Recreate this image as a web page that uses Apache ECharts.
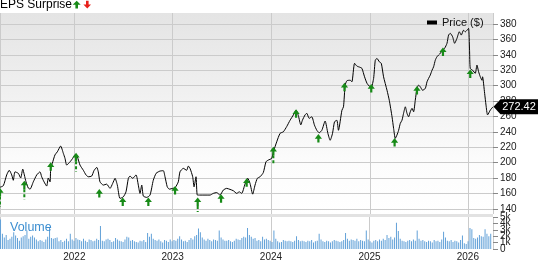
<!DOCTYPE html>
<html><head><meta charset="utf-8">
<script src="https://cdn.jsdelivr.net/npm/echarts@6/dist/echarts.min.js"></script>
<style>html,body{margin:0;padding:0;background:#fff}#c{width:538px;height:262px}</style>
</head><body><div id="c"></div>
<script>
// ---- data (dates as fractional years) ----
const priceDates = [
2021.249,2021.283,2021.317,2021.343,2021.368,2021.384,2021.401,2021.435,2021.459,2021.480,2021.496,2021.513,2021.536,2021.554,2021.587,2021.622,2021.655,2021.672,2021.696,2021.723,2021.739,2021.757,2021.764,2021.780,2021.807,2021.831,2021.865,2021.892,2021.909,2021.926,2021.960,2021.987,
2022.010,2022.034,2022.061,2022.095,2022.122,2022.145,2022.180,2022.203,2022.231,2022.247,2022.264,2022.298,2022.332,2022.366,2022.393,2022.417,2022.440,2022.467,2022.501,2022.528,2022.552,2022.569,2022.596,2022.630,2022.653,2022.670,2022.688,2022.704,2022.738,2022.772,2022.805,2022.833,2022.856,2022.873,2022.907,2022.924,2022.947,2022.968,
2023.002,2023.026,2023.059,2023.076,2023.110,2023.144,2023.161,2023.178,2023.205,2023.219,2023.239,2023.252,2023.279,2023.381,2023.414,2023.449,2023.482,2023.516,2023.550,2023.584,2023.618,2023.652,2023.678,2023.703,2023.736,2023.764,2023.787,2023.814,2023.838,2023.861,2023.889,2023.922,2023.949,2023.973,
2024.007,2024.024,2024.058,2024.092,2024.125,2024.160,2024.193,2024.227,2024.254,2024.277,2024.302,2024.318,2024.345,2024.363,2024.386,2024.413,2024.440,2024.464,2024.488,2024.515,2024.548,2024.576,2024.599,2024.623,2024.643,2024.667,2024.683,2024.718,2024.734,2024.751,2024.769,2024.802,2024.819,2024.846,2024.870,2024.904,2024.921,2024.947,2024.972,2024.995,
2025.015,2025.039,2025.056,2025.073,2025.097,2025.117,2025.140,2025.175,2025.198,2025.226,2025.242,2025.259,2025.276,2025.293,2025.310,2025.327,2025.343,2025.361,2025.378,2025.394,2025.411,2025.429,2025.445,2025.462,2025.479,2025.496,2025.513,2025.536,2025.564,2025.581,2025.597,2025.614,2025.632,2025.648,2025.665,2025.682,2025.716,2025.739,2025.760,2025.784,2025.800,2025.817,2025.841,2025.861,2025.885,2025.909,2025.929,2025.952,2025.970,2025.987,
2026.003,2026.013,2026.020,2026.044,2026.071,2026.088,2026.105,2026.122,2026.139,2026.145,2026.166,2026.180,2026.196,2026.224,2026.251
];
const priceValues = [
168,170,184,190,184,177,188,186,180,191.5,184,175,167,165.5,175,184,188,181.6,175,169.5,180,175,192.5,199,210,214,221.5,212,205.5,196.8,201,205.5,
210,207.5,196.8,190,184,181.6,182.5,189.5,193.8,188,175,170.8,172,166.5,173,179.5,170.8,153.5,155.5,162,179.5,182.5,179.5,184,170.8,160,170.8,156.5,154.8,157.8,177,186,188,189,189.5,181.6,168.5,165.5,
166.5,167.3,175,188,192.5,190,195.5,192.5,181.6,168.5,181.6,157.8,157.8,157.8,160,161,157.8,164.3,166.5,165.2,163.4,160,162,160,172,179.5,173,159,170.8,179.5,181.6,187,201,203.3,
205.5,214,227,238,240,247,255,262,268,261,249,255,262,264,257.5,259.5,248.7,242,238.8,242,254,238,229,238,253,255,242,268,272.5,300.7,306.4,307,305,329,325.4,323.7,322.4,311.5,303,299.4,
297.7,309.4,333,335.4,331,329,311.5,294,281,259.5,244.5,231.5,235.8,242,251,255,264,272.5,264,259.5,266,270.5,266,281,296.4,300.7,298.5,294,296.4,305,309.4,313.7,320,324.5,333,337.5,342,346,348.5,355,365.7,368,363.5,355,361.4,370,365.7,372,370,372,
374.4,346,322.4,320,316,326.7,318,311.5,307,311.5,290,274.7,262,268.3,272.42
];
// EPS surprise markers: report date, price at arrow tip, price at tail end
const epsDates = [2021.249,2021.496,2021.764,2022.021,2022.257,2022.495,2022.755,2023.026,2023.256,2023.493,2023.753,2024.024,2024.254,2024.480,2024.744,2025.015,2025.252,2025.479,2025.743,2026.020];
const epsTip   = [166.9,176.4,200.3,212.7,165.6,154.8,154.8,169.5,154.8,159.0,179.5,220.5,269.2,237.0,303.7,302.0,231.8,299.4,349.7,321.1];
const epsTail  = [142.2,152.2,188.0,188.0,155.6,144.8,144.8,160.0,135.7,149.0,169.5,199.0,259.5,228.4,295.0,293.3,222.0,290.7,341.0,312.4];
// weekly volume (thousands), first week starting 2021-04-02
const volumeStart = '2021-04-02';
const volumes = [
4.6,2.4,1.8,2.2,1.4,1.6,1.9,2.6,2.1,1.7,1.3,1.8,2.0,
2.2,2.9,1.6,1.9,2.1,1.8,1.5,1.2,1.4,1.3,1.1,1.5,1.9,
3.3,1.7,1.6,1.7,1.8,1.2,1.4,1.1,1.3,1.6,1.2,2.4,1.5,
1.3,1.7,1.5,1.4,1.2,1.6,1.3,1.1,1.5,1.4,1.2,1.3,1.6,
1.4,3.6,1.3,1.2,1.5,1.6,1.4,1.1,1.2,1.7,1.5,1.3,1.2,
1.1,1.5,1.9,1.8,1.3,1.4,1.2,1.1,1.0,1.3,1.2,1.4,1.1,
2.5,1.9,2.4,1.6,1.4,1.3,1.5,1.2,1.0,1.4,1.3,1.1,1.5,
1.2,1.4,1.3,1.6,2.0,1.5,1.2,1.3,1.1,1.4,1.7,1.5,2.0,
2.2,3.2,2.6,1.8,1.5,1.3,1.6,1.4,1.2,1.5,1.4,1.3,2.9,
1.8,1.5,1.3,1.3,1.4,1.2,1.1,1.3,1.6,1.5,1.4,1.7,1.9,
1.8,3.3,2.2,1.9,1.6,1.7,1.3,1.4,1.2,1.9,1.5,1.6,1.4,
1.3,1.1,2.9,1.6,1.2,1.0,1.1,1.4,1.3,1.2,1.3,1.2,1.1,
1.3,2.0,1.4,1.2,1.3,1.2,1.1,1.3,1.2,1.4,1.0,1.2,1.3,
2.4,1.5,1.2,1.1,1.3,1.2,1.0,1.2,1.4,1.3,1.2,1.1,1.2,
1.4,2.5,1.6,1.3,1.5,1.4,1.3,1.6,1.2,1.4,1.3,1.2,2.9,
1.5,1.2,1.0,1.3,1.4,1.2,1.5,1.3,1.6,1.4,2.2,1.7,1.9,
1.5,1.8,4.1,2.8,1.6,1.3,1.2,1.1,1.3,1.4,1.2,1.5,1.3,
2.9,1.6,1.3,1.4,1.2,1.1,1.3,1.2,1.0,1.4,1.2,1.3,1.1,
1.5,2.7,1.8,1.3,1.2,1.4,1.1,1.3,1.2,1.0,1.4,2.1,0.9,
0.8,1.2,3.3,3.1,1.7,1.6,1.8,2.2,2.0,1.9,3.1,2.4,2.0,2.4
];
const priceTicks = [140,160,180,200,220,240,260,280,300,320,340,360,380];
const volumeTicksEven = [0,2,4];
const volumeTicksOdd = [1,3,5];
const axisStart = 2021.249, axisEnd = 2026.251;
const priceMin = 133.2, priceMax = 394.4;
const volumeMin = 0, volumeMax = 5;

// ---- build ----
function fy(t){ const y=Math.floor(t); const a=Date.UTC(y,0,1), b=Date.UTC(y+1,0,1); return a+(t-y)*(b-a); }
const WEEK = 7*24*3600*1000;
const v0 = Date.parse(volumeStart+'T00:00:00Z');
const priceData = priceDates.map((t,i)=>[fy(t), priceValues[i]]);
const volData = volumes.map((v,i)=>[v0+i*WEEK, v]);
const epsData = epsDates.map((t,i)=>[fy(t), epsTip[i], epsTail[i]]);
const last = priceData[priceData.length-1];
const FONT = '"Liberation Sans", Arial, sans-serif';
const GREEN = '#178a17';
const GRID = '#cbcbcb';
const volFmt = v => v===0 ? '0' : v+'k';
function volAxis(ticks){
  return {type:'value', gridIndex:1, position:'right', offset:0, min:volumeMin, max:volumeMax,
    axisLine:{show:false},
    axisTick:{show:true, length:5, lineStyle:{color:'#888'}, customValues: ticks},
    axisLabel:{fontSize:10, color:'#222', margin:7, fontFamily:FONT, hideOverlap:false,
      formatter: volFmt, customValues: ticks},
    splitLine:{show:false}};
}

const chart = echarts.init(document.getElementById('c'), null, {renderer:'canvas'});
chart.setOption({
  useUTC: true,
  animation: false,
  textStyle: {fontFamily: FONT},
  grid: [
    {left:0, right:45, top:13, height:201, show:true, borderWidth:0,
     backgroundColor:{type:'linear',x:0,y:0,x2:0,y2:1,colorStops:[
       {offset:0,color:'#e4e4e4'},{offset:0.45,color:'#f2f2f2'},{offset:0.75,color:'#fcfcfc'},{offset:1,color:'#ffffff'}]}},
    {left:0, right:45, top:217, height:35}
  ],
  legend: {data:[{name:'Price ($)', icon:'rect'}], left:427, top:17, padding:0,
    itemWidth:10, itemHeight:4, textStyle:{fontSize:11, color:'#111', fontFamily:FONT}},
  xAxis: [
    {type:'time', gridIndex:0, min:fy(axisStart), max:fy(axisEnd),
     axisLine:{show:false}, axisTick:{show:false}, axisLabel:{show:false},
     splitLine:{show:true, lineStyle:{color:GRID, width:1}}},
    {type:'time', gridIndex:1, min:fy(axisStart), max:fy(axisEnd),
     axisLine:{show:false}, axisTick:{show:false},
     axisLabel:{show:true, fontSize:10, color:'#222', margin:3, fontFamily:FONT,
       formatter: v => String(new Date(v).getUTCFullYear())},
     splitLine:{show:true, lineStyle:{color:GRID, width:1}}}
  ],
  yAxis: [
    {type:'value', gridIndex:0, position:'right', min:priceMin, max:priceMax,
     axisLine:{show:false},
     axisTick:{show:true, length:5, lineStyle:{color:'#888'}, customValues: priceTicks},
     axisLabel:{fontSize:10, color:'#222', margin:7, fontFamily:FONT, customValues: priceTicks},
     splitNumber:13, minInterval:20, maxInterval:20,
     splitLine:{show:true, lineStyle:{color:GRID, width:1}}},
    volAxis(volumeTicksEven),
    volAxis(volumeTicksOdd)
  ],
  series: [
    {name:'Volume', type:'bar', xAxisIndex:1, yAxisIndex:1, data:volData,
     barWidth:1, itemStyle:{color:'#62a1d8'}, silent:true},
    {name:'Price ($)', type:'line', xAxisIndex:0, yAxisIndex:0, data:priceData,
     showSymbol:false, smooth:0.2, lineStyle:{color:'#000', width:1}, itemStyle:{color:'#000'},
     z:3,
     markPoint:{symbol:'path://M0,7.5 L7,0 L45,0 L45,15 L7,15 Z', symbolSize:[45,15],
       symbolKeepAspect:false, symbolOffset:[23,0], itemStyle:{color:'#000'},
       label:{show:true, position:'inside', color:'#fff', fontSize:11, fontFamily:FONT, offset:[3,0],
         formatter: p => Number(p.value).toFixed(2)},
       data:[{coord:last, value:last[1]}]}},
    {name:'EPS', type:'custom', xAxisIndex:0, yAxisIndex:0, data:epsData, z:4, clip:false,
     renderItem:(params, api) => {
       const p = api.coord([api.value(0), api.value(1)]);
       const q = api.coord([api.value(0), api.value(2)]);
       const x = p[0], y = p[1];
       const children = [{type:'polygon', shape:{points:[[x,y],[x+3.6,y+4.6],[x+1.1,y+4.6],[x+1.1,y+8.5],[x-1.1,y+8.5],[x-1.1,y+4.6],[x-3.6,y+4.6]]},
         style:{fill:GREEN}}];
       if (q[1] > y + 10) children.push({type:'line', shape:{x1:x, y1:y+8.5, x2:x, y2:q[1]},
         style:{stroke:GREEN, lineWidth:2, lineDash:[3,2]}});
       return {type:'group', children};
     }}
  ],
  graphic: [
    {type:'rect', shape:{x:0, y:214, width:493, height:3}, style:{fill:'#e2e2e2'}, z:10},
    {type:'text', x:0, y:5, style:{text:'EPS Surprise', font:'12px '+FONT, fill:'#000', verticalAlign:'middle'}, z:10},
    {type:'polygon', shape:{points:[[76.7,0.8],[80.7,4.7],[78,4.7],[78,8.5],[75.4,8.5],[75.4,4.7],[72.7,4.7]]}, style:{fill:GREEN}, z:10},
    {type:'polygon', shape:{points:[[86,0.8],[88.6,0.8],[88.6,4.4],[91,4.4],[87.3,8.5],[83.4,4.4],[86,4.4]]}, style:{fill:'#e8201a'}, z:10},
    {type:'text', x:10, y:228, style:{text:'Volume', font:'12.5px '+FONT, fill:'#3d8fd1', verticalAlign:'middle'}, z:10}
  ]
});
</script></body></html>
